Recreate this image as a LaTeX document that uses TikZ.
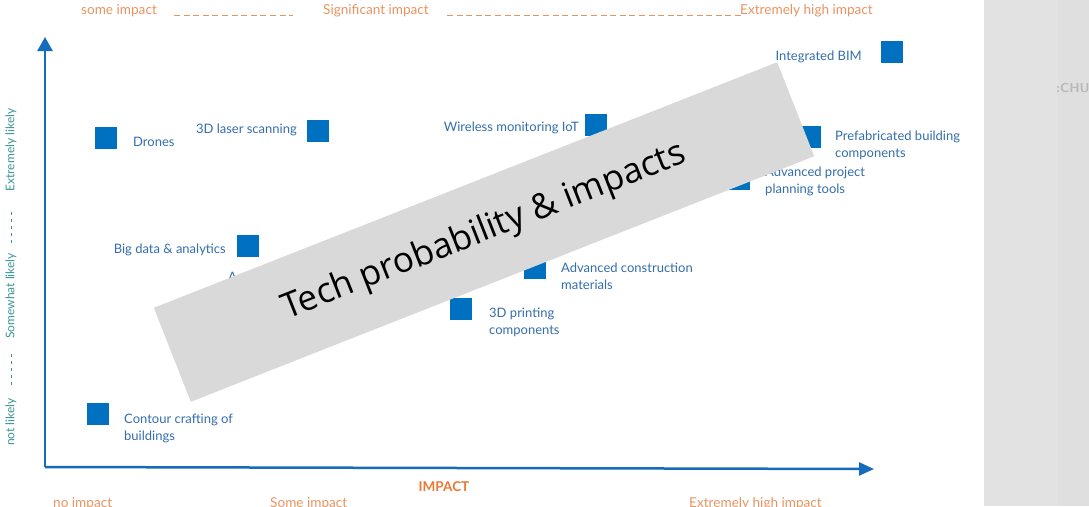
\documentclass[tikz,border=0pt]{standalone}
\usepackage{fontspec}
\setmainfont{Lato}
\newfontfamily\bandfont{Open Sans}
\usepackage{xcolor}
\usepackage{tikz}
\usetikzlibrary{positioning,calc,shapes,arrows.meta}
\definecolor{sqblue}{RGB}{0,112,192}
\definecolor{axblue}{RGB}{22,108,188}
\definecolor{lblblue}{RGB}{52,110,172}
\definecolor{orng}{RGB}{232,148,98}
\definecolor{orngd}{RGB}{232,122,52}
\definecolor{teal}{RGB}{58,150,150}
\definecolor{bandgray}{RGB}{217,217,217}
\tikzstyle{sq}= [rectangle, fill=sqblue, minimum size=22pt, inner sep=0pt]
\tikzstyle{lbl}= [text=lblblue, font=\fontsize{13}{17}\selectfont, inner sep=0pt, align=left]
\tikzstyle{imp}= [text=orng, font=\fontsize{13.6}{15}\selectfont, inner sep=0pt]
\tikzstyle{lik}= [text=teal, font=\fontsize{12}{14}\selectfont, inner sep=0pt, rotate=90]
\tikzstyle{axis}= [draw=axblue, line width=2.5pt]

\begin{document}
\begin{tikzpicture}[x=1pt, y=-1pt]
				\useasboundingbox (0,0) rectangle (1089,506);
				\fill[white] (0,0) rectangle (1089,506);
				\fill[gray!23] (984,0) rectangle (1089,506);
				\fill[gray!25] (1058,0) rectangle (1089,506);
				\begin{scope}
					\clip (984,0) rectangle (1089,506);
					\node[anchor=west, inner sep=0pt, text=gray!55, font=\sffamily\bfseries\fontsize{13}{15}\selectfont] (ch) at (1056,88) {:CHU};
				\end{scope}

				\coordinate (o) at (45,467);
				\coordinate (ytip) at (45,37);
				\coordinate (xtip) at (874,469);
				\draw[axis, -{Triangle[length=14pt, width=15pt]}] (o) -- (ytip);
				\draw[axis, -{Triangle[length=15pt, width=13pt]}] (o) -- (xtip);

				\node[imp, anchor=west] (t1) at (81,11) {some impact};
				\node[imp, anchor=west] (t2) at (323,11) {Significant impact};
				\node[imp, anchor=west] (t3) at (740,11) {Extremely high impact};
				\draw[orng, line width=1pt, dash pattern=on 6pt off 3.6pt] ($(t1.east)+(17,4)$) -- ($(t2.west)+(-30,4)$);
				\draw[orng, line width=1pt, dash pattern=on 6pt off 3.6pt] ($(t2.east)+(18,4)$) -- ($(t3.west)+(4,4)$);

				\node[imp, text=orngd, font=\bfseries\fontsize{13.5}{15}\selectfont] (imp) at (444,487) {IMPACT};
				\node[imp, anchor=west] (b1) at (53,504) {no impact};
				\node[imp, anchor=west] (b2) at (270,504) {Some impact};
				\node[imp, anchor=west] (b3) at (689,504) {Extremely high impact};

				\node[lik] (l1) at (11,422) {not likely};
				\node[lik] (l2) at (11,296) {Somewhat likely};
				\node[lik] (l3) at (11,150) {Extremely likely};
				\draw[teal, line width=0.8pt, dash pattern=on 3pt off 4pt] ($(l1.east)+(0,-13)$) -- ($(l2.west)+(0,15)$);
				\draw[teal, line width=0.8pt, dash pattern=on 3pt off 4pt] ($(l2.east)+(0,-10)$) -- ($(l3.west)+(0,17)$);

				\node[sq] (drones) at (106,138) {};
				\node[sq] (laser) at (318,131) {};
				\node[sq] (iot) at (596,125) {};
				\node[sq] (bim) at (892,52) {};
				\node[sq] (prefab) at (810,137) {};
				\node[sq] (plan) at (739,179) {};
				\node[sq] (bigdata) at (248,246) {};
				\node[sq] (mater) at (535,268) {};
				\node[sq] (print) at (461,309) {};
				\node[sq] (contour) at (98,414) {};

				\node[lbl, anchor=west] (drones-l) at (133,142) {Drones};
				\node[lbl, anchor=east] (laser-l) at (297,130) {3D laser scanning};
				\node[lbl, anchor=east] (iot-l) at (579,128) {Wireless monitoring IoT};
				\node[lbl, anchor=east] (bim-l) at (862,57) {Integrated BIM};
				\node[lbl, anchor=west] (prefab-l) at (835,145.5) {Prefabricated building\\components};
				\node[lbl, anchor=west] (plan-l) at (765,181.5) {Advanced project\\planning tools};
				\node[lbl, anchor=east] (bigdata-l) at (226,250) {Big data \& analytics};
				\node[lbl, anchor=west] (hid-l) at (228,277) {A};
				\node[lbl, anchor=west] (mater-l) at (561,276.5) {Advanced construction\\materials};
				\node[lbl, anchor=west] (print-l) at (489,322.5) {3D printing\\components};
				\node[lbl, anchor=west] (contour-l) at (124,428) {Contour crafting of\\buildings};

				\node[rectangle, fill=bandgray, minimum width=670pt, minimum height=101pt, rotate=21.5, font=\bandfont\fontsize{35}{38}\selectfont] (band) at (484,232) {Tech probability \& impacts};
			\end{tikzpicture}
\end{document}
